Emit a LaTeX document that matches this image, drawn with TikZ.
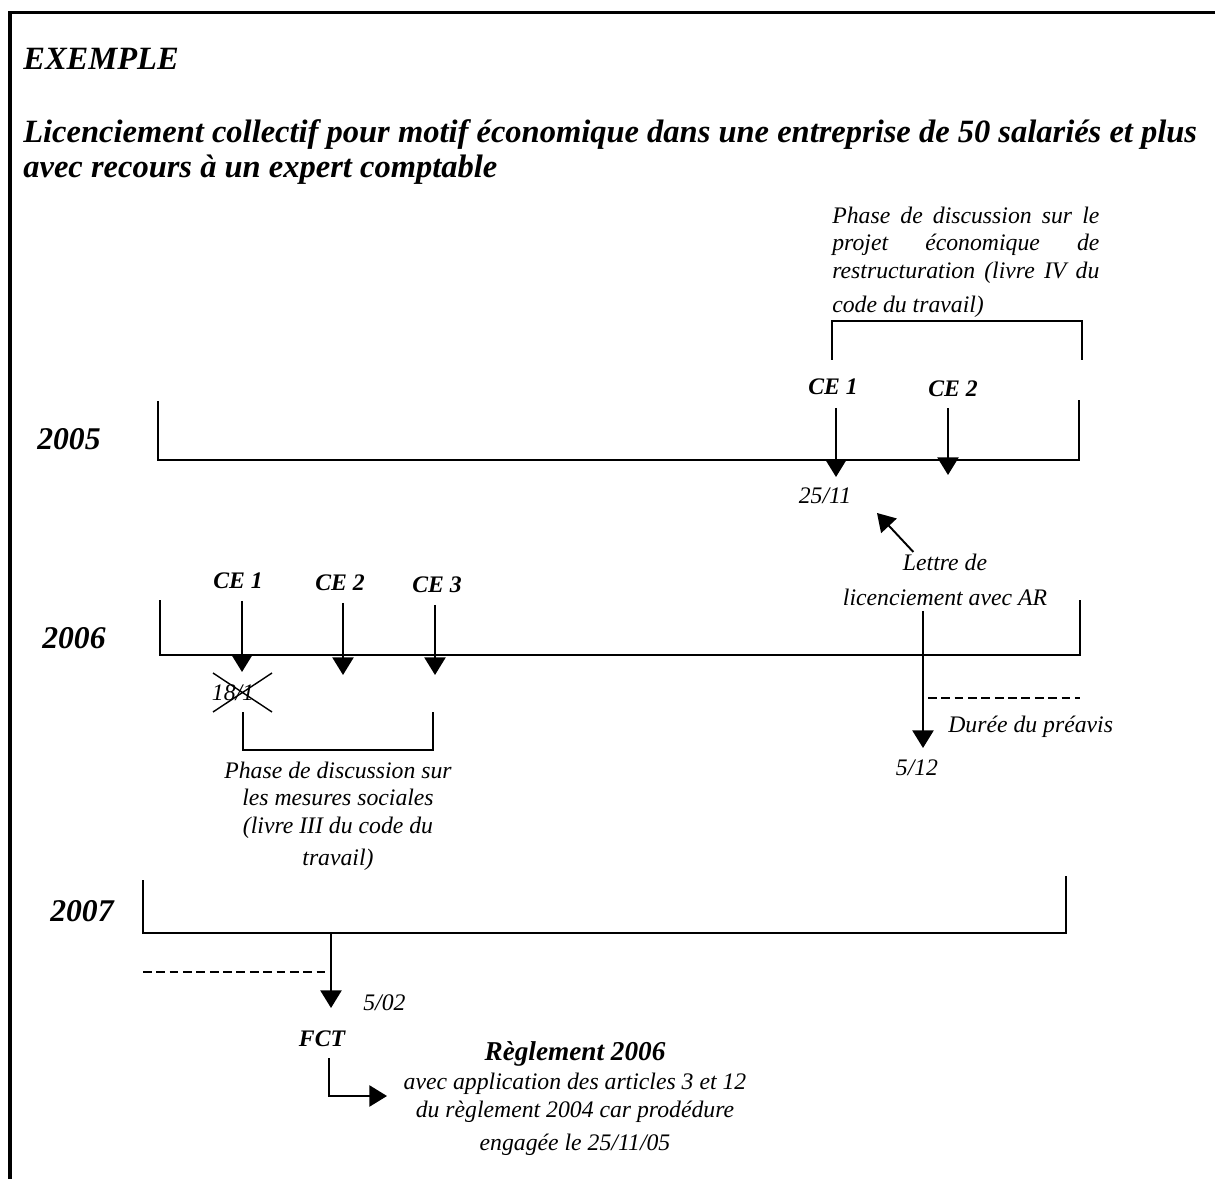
\documentclass[tikz,border=0pt]{standalone}
\usepackage{fontspec}
\setmainfont{Liberation Serif}
\usetikzlibrary{positioning,arrows.meta}

\begin{document}
\begin{tikzpicture}[x=0.02cm, y=-0.02cm,
    titre/.style={font=\fontsize{18.5}{20.4}\selectfont\bfseries\itshape, inner sep=0pt},
    annee/.style={font=\fontsize{18}{20.4}\selectfont\bfseries\itshape, inner sep=0pt},
    ce/.style={font=\fontsize{13.5}{15.6}\selectfont\bfseries\itshape, inner sep=0pt},
    note/.style={font=\fontsize{13.5}{15.6}\selectfont\itshape, inner sep=0pt},
    axe/.style={line width=1.1pt},
    fleche/.style={line width=1.1pt, -{Triangle[length=10pt,width=12pt]}},
    tiret/.style={line width=0.8pt, dash pattern=on 5pt off 2.6pt}
  ]
  \useasboundingbox (0,0) rectangle (1215,1179);
  \draw[line width=1.9pt] (10,1179) -- (10,12.5) -- (1215,12.5);

  \node[titre, anchor=base west] (exemple) at (23,70) {EXEMPLE};
  \node[titre, anchor=base west, align=left] (sujet) at (23,178)
    {Licenciement collectif pour motif économique dans une entreprise de 50 salariés et plus\\avec recours à un expert comptable};

  % 2005
  \node[annee, anchor=base west] (an2005) at (37,450) {2005};
  \draw[axe] (158,401) -- (158,460) -- (1079,460) -- (1079,400);
  \node[note, anchor=base west, align=left] (phaseIV) at (832,313)
    {\makebox[152pt][s]{Phase de discussion sur le}\\\makebox[152pt][s]{projet économique de}\\
     \makebox[152pt][s]{restructuration (livre IV du}\\[4.2pt]code du travail)};
  \draw[axe] (832,360) -- (832,321) -- (1082,321) -- (1082,360);
  \node[ce, anchor=base] (ce1a) at (833,395) {CE 1};
  \node[ce, anchor=base] (ce2a) at (953,397) {CE 2};
  \coordinate (t2511) at (836,477);
  \coordinate (tce2a) at (948,475);
  \draw[fleche, shorten <=7pt] (ce1a.south -| t2511) -- (t2511);
  \draw[fleche, shorten <=6pt] (ce2a.south -| tce2a) -- (tce2a);
  \node[note, anchor=base] (d2511) at (825,503) {25/11};

  \node[note, anchor=base, align=center] (lettre) at (945,605) {Lettre de\\[4pt]licenciement avec AR};
  \coordinate (tlettre) at (877,513);
  \draw[fleche] ([xshift=-18pt, yshift=1pt]lettre.north) -- (tlettre);

  % 2006
  \node[annee, anchor=base west] (an2006) at (42,648) {2006};
  \draw[axe] (160,600) -- (160,655) -- (1080,655) -- (1080,600);
  \node[ce, anchor=base] (ce1b) at (238,588) {CE 1};
  \node[ce, anchor=base] (ce2b) at (340,590) {CE 2};
  \node[ce, anchor=base] (ce3b) at (437,592) {CE 3};
  \coordinate (t1801) at (242,672);
  \coordinate (tce2b) at (343,675);
  \coordinate (tce3b) at (435,675);
  \draw[fleche, shorten <=7pt] (ce1b.south -| t1801) -- (t1801);
  \draw[fleche, shorten <=7pt] (ce2b.south -| tce2b) -- (tce2b);
  \draw[fleche, shorten <=7pt] (ce3b.south -| tce3b) -- (tce3b);
  \node[note, anchor=base] (d1801) at (233,700) {18/1};
  \draw[line width=0.8pt] (213,673) -- (272,712) (213,712) -- (272,673);
  \draw[axe] (243,712) -- (243,750) -- (433,750) -- (433,712);
  \node[note, anchor=base, align=center] (phaseIII) at (338,865)
    {Phase de discussion sur\\les mesures sociales\\(livre III du code du\\[2.5pt]travail)};

  \coordinate (t0512) at (923,748);
  \draw[fleche, shorten <=3pt] (lettre.south -| t0512) -- (t0512);
  \draw[tiret] (928,698) -- (1080,698);
  \node[note, anchor=base west] (preavis) at (948,732) {Durée du préavis};
  \node[note, anchor=base] (d0512) at (917,775) {5/12};

  % 2007
  \node[annee, anchor=base west] (an2007) at (50,921) {2007};
  \draw[axe] (143,880) -- (143,933) -- (1066,933) -- (1066,876);
  \coordinate (fin) at (331,933);
  \coordinate (t0502) at (331,1008);
  \draw[fleche] (fin) -- (t0502);
  \draw[tiret] (143,972) -- (fin |- 0,972);
  \node[note, anchor=base west] (d0502) at (363,1010) {5/02};
  \node[ce, anchor=base] (fct) at (322,1046) {FCT};
  \node[note, anchor=base, align=center] (reglement) at (575,1150)
    {{\fontsize{15.5}{17}\selectfont\bfseries Règlement 2006}\\[1.4pt]avec application des articles 3 et 12\\
     du règlement 2004 car prodédure\\[3pt]engagée le 25/11/05};
  \coordinate (treglement) at (387,1096);
  \draw[fleche, shorten <=6.5pt] ([xshift=4pt]fct.south) |- (treglement);
\end{tikzpicture}
\end{document}
